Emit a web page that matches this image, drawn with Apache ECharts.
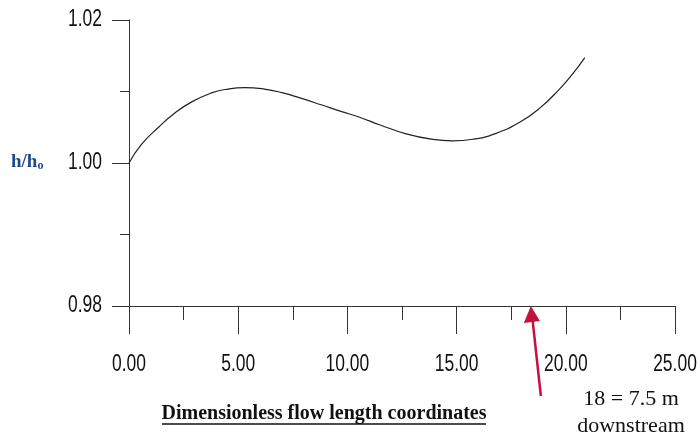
<!DOCTYPE html>
<html>
<head>
<meta charset="utf-8">
<script src="https://cdn.jsdelivr.net/npm/echarts@6/dist/echarts.min.js"></script>
<style>html,body{margin:0;padding:0;background:#fff}#c{width:698px;height:437px}</style>
</head>
<body>
<div id="c"></div>
<script>
// Data
const xValues = [0, 0.58, 1.34, 2.10, 2.87, 3.78, 4.40, 5.30, 6.20, 7.00, 7.90, 8.80, 9.70, 10.56, 11.47, 12.69, 13.91, 14.82, 15.74, 16.81, 17.87, 18.78, 19.70, 20.31, 20.87];
const hRatio  = [1.0000, 1.00263, 1.00497, 1.00700, 1.00855, 1.00980, 1.01028, 1.01055, 1.01034, 1.00984, 1.00903, 1.00814, 1.00722, 1.00640, 1.00535, 1.00408, 1.00330, 1.00310, 1.00332, 1.00415, 1.00566, 1.00760, 1.01030, 1.01245, 1.01475];
const xTickLabels = ['0.00', '5.00', '10.00', '15.00', '20.00', '25.00'];
const yTickLabels = ['0.98', '1.00', '1.02'];
const arrowX = 18.4;
const yLabel = 'h/h';
const xLabel = 'Dimensionless flow length coordinates';
const note = ['18 = 7.5 m', 'downstream'];

const chart = echarts.init(document.getElementById('c'), null, {renderer: 'canvas'});
const sans = '"Liberation Sans", Arial, sans-serif';
const serif = '"Liberation Serif", "DejaVu Serif", serif';
const axisCol = '#333';

chart.setOption({
  animation: false,
  grid: {left: 129, right: 23, top: 20, bottom: 131},
  xAxis: {
    type: 'value', min: 0, max: 25, interval: 5,
    axisLine: {lineStyle: {color: axisCol, width: 1}},
    axisTick: {show: true, inside: false, length: 28, lineStyle: {color: axisCol}},
    minorTick: {show: true, splitNumber: 2, length: 14, lineStyle: {color: axisCol}},
    splitLine: {show: false},
    axisLabel: {show: false}
  },
  yAxis: {
    type: 'value', min: 0.98, max: 1.02, interval: 0.02,
    axisLine: {show: true, lineStyle: {color: axisCol, width: 1}},
    axisTick: {show: true, length: 17, lineStyle: {color: axisCol}},
    minorTick: {show: true, splitNumber: 2, length: 9, lineStyle: {color: axisCol}},
    splitLine: {show: false},
    axisLabel: {show: false}
  },
  series: [{
    type: 'line', smooth: 0.5, symbol: 'none',
    lineStyle: {color: '#222', width: 1.2},
    data: xValues.map((x, i) => [x, hRatio[i]])
  }]
});

const px = (x, y) => chart.convertToPixel({xAxisIndex: 0, yAxisIndex: 0}, [x, y]);
const condensed = 0.76;
const graphics = [];
xTickLabels.forEach(t => {
  const p = px(parseFloat(t), 0.98);
  graphics.push({type: 'text', x: p[0], y: p[1] + 59, scaleX: condensed, style: {
    text: t, fontFamily: sans, fontSize: 23, fill: '#111', textAlign: 'center', textVerticalAlign: 'middle'
  }});
});
yTickLabels.forEach(t => {
  const p = px(0, parseFloat(t));
  graphics.push({type: 'text', x: p[0] - 27, y: p[1], scaleX: condensed, style: {
    text: t, fontFamily: sans, fontSize: 23, fill: '#111', textAlign: 'right', textVerticalAlign: 'middle'
  }});
});

const tip = px(arrowX, 0.98);
const red = '#c4123c';
graphics.push(
  {type: 'text', x: 11, y: 162, style: {
    text: '{a|' + yLabel + '}{b|o}', textVerticalAlign: 'middle',
    rich: {
      a: {fontFamily: serif, fontWeight: 'bold', fontSize: 19, fill: '#1d4a8a'},
      b: {fontFamily: serif, fontWeight: 'bold', fontSize: 12, fill: '#1d4a8a', padding: [8, 0, 0, 0]}
    }
  }},
  {type: 'text', x: 324, y: 414, style: {
    text: xLabel, fontFamily: serif, fontWeight: 'bold', fontSize: 20, fill: '#111',
    textAlign: 'center', textVerticalAlign: 'middle'
  }},
  {type: 'line', shape: {x1: 162, y1: 424, x2: 486, y2: 424}, style: {stroke: '#111', lineWidth: 1.3}},
  {type: 'line', shape: {x1: tip[0] + 10, y1: 396, x2: tip[0] + 1.5, y2: tip[1] + 12}, style: {stroke: red, lineWidth: 2.5}},
  {type: 'polygon', shape: {points: [[tip[0], tip[1]], [tip[0] - 7, tip[1] + 17], [tip[0] + 9, tip[1] + 15]]}, style: {fill: red}},
  {type: 'text', x: 631, y: 399, style: {
    text: note[0], fontFamily: serif, fontSize: 22, fill: '#111', textAlign: 'center', textVerticalAlign: 'middle'
  }},
  {type: 'text', x: 631, y: 426, style: {
    text: note[1], fontFamily: serif, fontSize: 22, fill: '#111', textAlign: 'center', textVerticalAlign: 'middle'
  }}
);
chart.setOption({graphic: graphics});
</script>
</body>
</html>
